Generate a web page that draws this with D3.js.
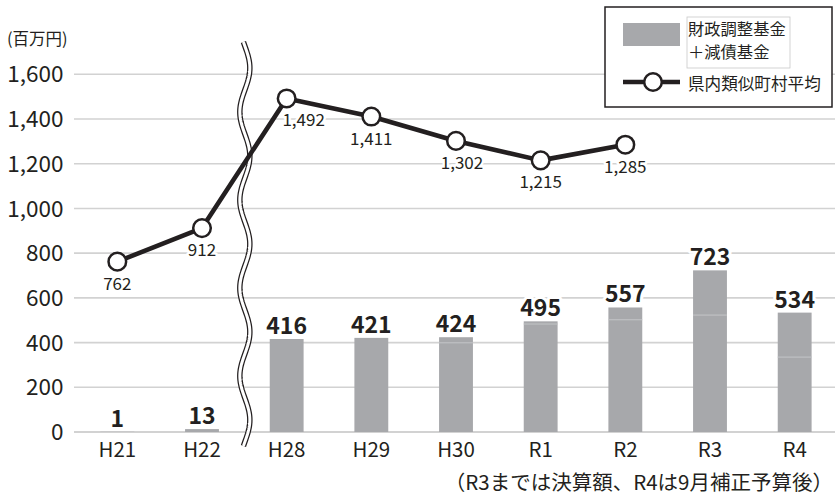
<!DOCTYPE html>
<html><head><meta charset="utf-8">
<script src="https://cdn.jsdelivr.net/npm/d3@7"></script>
<style>
html,body{margin:0;padding:0;background:#fff;}
svg{display:block;font-family:"Noto Sans CJK JP","Noto Sans",sans-serif;}
</style></head>
<body>
<script>
// ---- data ----
const categories = ["H21","H22","H28","H29","H30","R1","R2","R3","R4"];
const fundTotals = [1,13,416,421,424,495,557,723,534];          // 財政調整基金＋減債基金
const adjustPart = [1,13,416,421,399,483,502,523,335];          // lower segment (estimated)
const avgValues  = [762,912,1492,1411,1302,1215,1285,null,null]; // 県内類似町村平均
const yTicks = [0,200,400,600,800,1000,1200,1400,1600];
const unitLabel = "(百万円)";
const noteText = "（R3までは決算額、R4は9月補正予算後）";
const legendBar = ["財政調整基金","＋減債基金"];
const legendLine = "県内類似町村平均";

const W = 835, H = 495;
const svg = d3.select("body").append("svg").attr("width", W).attr("height", H);

const x = d3.scalePoint().domain(categories).range([75, 837]).padding(0.5);
const y = d3.scaleLinear().domain([0, 1600]).range([432, 74.3]);
const barW = x.step() * 0.4;

// gridlines
svg.append("g").selectAll("line").data(yTicks).join("line")
  .attr("x1", 74).attr("x2", W)
  .attr("y1", d => y(d)).attr("y2", d => y(d))
  .attr("stroke", "#d2d2d2").attr("stroke-width", d => d === 0 ? 2 : 1.6);

// y tick labels
svg.append("g").selectAll("text").data(yTicks).join("text")
  .attr("x", 63.5).attr("y", d => y(d)).attr("dy", "0.36em")
  .attr("text-anchor", "end").attr("font-size", 22.5).attr("fill", "#231f20")
  .text(d => d3.format(",")(d));

svg.append("text").attr("x", 7).attr("y", 44.5).attr("font-size", 16.5)
  .attr("fill", "#231f20").text(unitLabel);

// bars
const bars = categories.map((c, i) => ({c, total: fundTotals[i], low: adjustPart[i]}));
svg.append("g").selectAll("rect").data(bars).join("rect")
  .attr("x", d => x(d.c) - barW/2).attr("width", barW)
  .attr("y", d => y(d.total)).attr("height", d => y(0) - y(d.total))
  .attr("fill", "#a7a8ab");
svg.append("g").selectAll("line").data(bars.filter(d => d.low < d.total)).join("line")
  .attr("x1", d => x(d.c) - barW/2).attr("x2", d => x(d.c) + barW/2)
  .attr("y1", d => y(d.low)).attr("y2", d => y(d.low))
  .attr("stroke", "#c4c5c8").attr("stroke-width", 1);

// x labels
svg.append("g").selectAll("text").data(categories).join("text")
  .attr("x", d => x(d)).attr("y", 457).attr("text-anchor", "middle")
  .attr("font-size", 20.5).attr("fill", "#231f20").text(d => d);

// break mark (wavy double line)
const brkX = (x("H22") + x("H28")) / 2 + 0.5;
const wavePts = d3.range(42, 448, 2).map(v => [brkX + 5 * Math.sin((v - 68) / 88 * 2 * Math.PI + Math.PI / 2), v]);
const waveLine = d3.line();
svg.append("path").attr("d", waveLine(wavePts)).attr("fill", "none")
  .attr("stroke", "#231f20").attr("stroke-width", 5.5);
svg.append("path").attr("d", waveLine(wavePts)).attr("fill", "none")
  .attr("stroke", "#fff").attr("stroke-width", 3);

// bar value labels
svg.append("g").selectAll("text").data(bars).join("text")
  .attr("x", d => x(d.c)).attr("y", d => y(d.total) - 5)
  .attr("text-anchor", "middle").attr("font-size", 23).attr("font-weight", "bold")
  .attr("fill", "#231f20").attr("stroke", "#fff").attr("stroke-width", 6)
  .attr("paint-order", "stroke").attr("stroke-linejoin", "round")
  .text(d => d3.format(",")(d.total));

// line series
const pts = categories.map((c, i) => ({c, v: avgValues[i]})).filter(d => d.v != null);
svg.append("path").datum(pts)
  .attr("d", d3.line().x(d => x(d.c)).y(d => y(d.v)))
  .attr("fill", "none").attr("stroke", "#231f20").attr("stroke-width", 4.6)
  .attr("stroke-linejoin", "round");
svg.append("g").selectAll("circle").data(pts).join("circle")
  .attr("cx", d => x(d.c)).attr("cy", d => y(d.v)).attr("r", 8.8)
  .attr("fill", "#fff").attr("stroke", "#231f20").attr("stroke-width", 2.5);

const lblDx = {H28: 17, H30: 6};
svg.append("g").selectAll("text").data(pts).join("text")
  .attr("x", d => x(d.c) + (lblDx[d.c] || 0)).attr("y", d => y(d.v) + 28)
  .attr("text-anchor", "middle").attr("font-size", 17).attr("fill", "#231f20")
  .attr("stroke", "#fff").attr("stroke-width", 5).attr("paint-order", "stroke")
  .attr("stroke-linejoin", "round")
  .text(d => d3.format(",")(d.v));

// legend
const lg = svg.append("g");
lg.append("rect").attr("x", 605).attr("y", 7).attr("width", 227).attr("height", 100)
  .attr("fill", "#fff").attr("stroke", "#231f20").attr("stroke-width", 1.5);
lg.append("rect").attr("x", 623).attr("y", 23).attr("width", 57).attr("height", 23)
  .attr("fill", "#a7a8ab");
lg.append("rect").attr("x", 687).attr("y", 17).attr("width", 103).attr("height", 51)
  .attr("fill", "none").attr("stroke", "#c8c8c8").attr("stroke-width", 0.8);
lg.selectAll("text.lb").data(legendBar).join("text").attr("class", "lb")
  .attr("x", 688).attr("y", (d, i) => 35 + i * 22.5).attr("font-size", 16.3)
  .attr("fill", "#231f20").text(d => d);
lg.append("line").attr("x1", 623).attr("x2", 680).attr("y1", 82).attr("y2", 82)
  .attr("stroke", "#231f20").attr("stroke-width", 4.6);
lg.append("circle").attr("cx", 653).attr("cy", 82).attr("r", 8.8)
  .attr("fill", "#fff").attr("stroke", "#231f20").attr("stroke-width", 2.5);
lg.append("text").attr("x", 688).attr("y", 90).attr("font-size", 16.6)
  .attr("fill", "#231f20").text(legendLine);

// footnote
svg.append("text").attr("x", 833).attr("y", 490).attr("text-anchor", "end")
  .attr("font-size", 20.5).attr("fill", "#231f20").text(noteText);
</script>
</body></html>
